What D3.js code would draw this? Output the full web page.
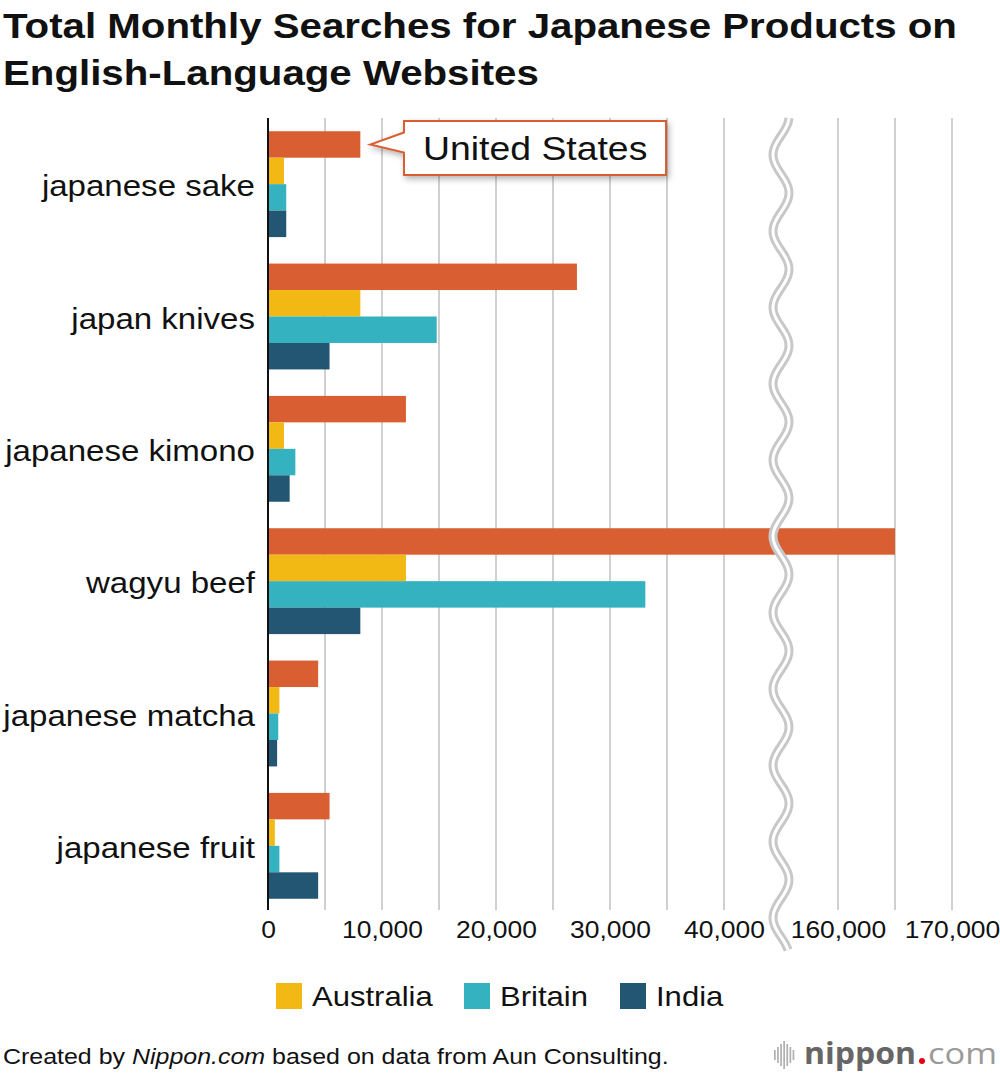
<!DOCTYPE html>
<html><head><meta charset="utf-8">
<script src="https://cdn.jsdelivr.net/npm/d3@7"></script>
<style>body{margin:0;background:#fff;}svg{display:block;font-family:"Liberation Sans",Arial,Helvetica,sans-serif;}</style>
</head><body>
<svg id="chart" width="1000" height="1082"></svg>
<script>
const categories = ["japanese sake","japan knives","japanese kimono","wagyu beef","japanese matcha","japanese fruit"];
const seriesNames = ["United States","Australia","Britain","India"];
const usValues = [8100, 27100, 12100, 165000, 4400, 5400];
const australiaValues = [1400, 8100, 1400, 12100, 1000, 600];
const britainValues = [1600, 14800, 2400, 33100, 900, 1000];
const indiaValues = [1600, 5400, 1900, 8100, 800, 4400];
const gridValues = [5000,10000,15000,20000,25000,30000,35000,40000,160000,165000,170000];
const tickValues = [0,10000,20000,30000,40000,160000,170000];
const colors = ["#d95f32","#f2b915","#35b2c0","#235673"];

const SX = 1.15;
const svg = d3.select("#chart");
const x = d3.scaleLinear().domain([0,45000,155000,170000]).range([268,781,781,952]);
const y = d3.scaleBand().domain(categories).range([118,912]).paddingInner(0.2).paddingOuter(0.1);
const ys = d3.scaleBand().domain(seriesNames).range([0,y.bandwidth()]);
const allSeries = [usValues, australiaValues, britainValues, indiaValues];

function stext(sel, px, py, sx){
  return sel.append("text").attr("transform",`translate(${px},${py}) scale(${sx},1)`);
}

// title
stext(svg,3,38,SX).attr("font-weight","bold").attr("font-size",35).attr("fill","#111")
  .text("Total Monthly Searches for Japanese Products on");
stext(svg,3,85,SX).attr("font-weight","bold").attr("font-size",35).attr("fill","#111")
  .text("English-Language Websites");

// grid
svg.append("g").selectAll("line").data(gridValues).join("line")
  .attr("x1",d=>x(d)).attr("x2",d=>x(d)).attr("y1",118).attr("y2",910)
  .attr("stroke","#d0d0d0").attr("stroke-width",2);

// bars
const g = svg.append("g");
seriesNames.forEach((s,si)=>{
  g.append("g").selectAll("rect").data(categories).join("rect")
    .attr("x",x(0)).attr("y",(c)=>y(c)+ys(s))
    .attr("width",(c,i)=>x(allSeries[si][i])-x(0))
    .attr("height",ys.bandwidth())
    .attr("fill",colors[si]);
});

// axis line
svg.append("line").attr("x1",268).attr("x2",268).attr("y1",118).attr("y2",910).attr("stroke","#111").attr("stroke-width",2);

// x tick labels
const xAxis = d3.axisBottom(x).tickValues(tickValues).tickFormat(d3.format(",")).tickSize(0).tickPadding(0);
const ax = svg.append("g").attr("transform","translate(0,917)").call(xAxis);
ax.select(".domain").remove();
ax.selectAll("text").attr("font-size",23).attr("fill","#111").attr("dy","0.9em")
  .attr("font-family","Liberation Sans, Arial, sans-serif").attr("transform",`scale(${SX},1)`);

// y labels
const yAxis = d3.axisLeft(y).tickSize(0).tickPadding(0);
const ay = svg.append("g").attr("transform","translate(255,3)").call(yAxis);
ay.select(".domain").remove();
ay.selectAll("text").attr("font-size",29).attr("fill","#111")
  .attr("font-family","Liberation Sans, Arial, sans-serif").attr("transform",`scale(1.14,1)`);

// break squiggle
const bx = x(45000);
const pts = d3.range(118,952,2).map(yy=>[bx + 8*Math.cos((yy-193)/76.3*2*Math.PI), yy]);
const line = d3.line().curve(d3.curveBasis);
svg.append("path").attr("d",line(pts)).attr("fill","none").attr("stroke","#c8c8c8").attr("stroke-width",9);
svg.append("path").attr("d",line(pts)).attr("fill","none").attr("stroke","#fff").attr("stroke-width",3);

// callout
const defs = svg.append("defs");
const f = defs.append("filter").attr("id","sh").attr("x","-20%").attr("y","-30%").attr("width","140%").attr("height","170%");
f.append("feDropShadow").attr("dx",2).attr("dy",3).attr("stdDeviation",3).attr("flood-color","#000").attr("flood-opacity",0.3);
const cy = y(categories[0]) + ys(seriesNames[0]) + ys.bandwidth()/2;
const bxl = 404, bxr = 666, byt = 121, byb = 175;
svg.append("path")
  .attr("d",`M${bxl},${byt} L${bxr},${byt} L${bxr},${byb} L${bxl},${byb} L${bxl},${cy+8} L${x(usValues[0])+10},${cy} L${bxl},${cy-12} Z`)
  .attr("fill","#fff").attr("stroke","#d95f32").attr("stroke-width",2).attr("filter","url(#sh)");
stext(svg,423,160,SX).attr("font-size",32.5).attr("fill","#111").text(seriesNames[0]);

// legend
const legendItems = [{n:"Australia",c:colors[1],x:276},{n:"Britain",c:colors[2],x:464},{n:"India",c:colors[3],x:620}];
const lg = svg.append("g");
legendItems.forEach(it=>{
  lg.append("rect").attr("x",it.x).attr("y",983).attr("width",26).attr("height",26).attr("fill",it.c);
  stext(lg,it.x+36,1006,SX).attr("font-size",27).attr("fill","#111").text(it.n);
});

// footer
const ft = stext(svg,3,1064,SX).attr("font-size",21.7).attr("fill","#111");
ft.append("tspan").text("Created by ");
ft.append("tspan").attr("font-style","italic").text("Nippon.com");
ft.append("tspan").text(" based on data from Aun Consulting.");

// logo
const logo = svg.append("g");
const barsH = [10,16,22,28,22,16,10];
barsH.forEach((h,i)=>{
  logo.append("rect").attr("x",774+i*3.1).attr("y",1055-h/2).attr("width",1.7).attr("height",h).attr("fill","#b0b0b0");
});
logo.append("text").attr("x",804).attr("y",1064).attr("font-size",30).attr("font-weight","bold")
  .attr("font-family","Open Sans, DejaVu Sans, sans-serif").attr("fill","#666")
  .attr("textLength",112).attr("lengthAdjust","spacingAndGlyphs").text("nippon");
logo.append("circle").attr("cx",922).attr("cy",1061).attr("r",3).attr("fill","#e60012");
logo.append("text").attr("x",928).attr("y",1064).attr("font-size",30)
  .attr("font-family","Open Sans, DejaVu Sans, sans-serif").attr("fill","#9a9a9a")
  .attr("textLength",69).attr("lengthAdjust","spacingAndGlyphs").text("com");
</script>
</body></html>
